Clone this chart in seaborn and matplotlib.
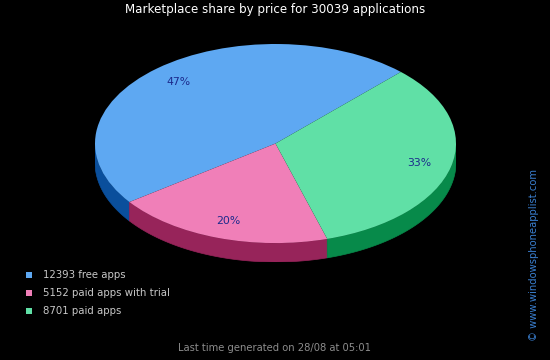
import numpy as np
import matplotlib
matplotlib.use("Agg")
import matplotlib.pyplot as plt
from matplotlib.patches import Polygon
import seaborn as sns

# Data
labels = ["12393 free apps", "5152 paid apps with trial", "8701 paid apps"]
counts = [12393, 5152, 8701]
top_colors = ["#5ea8f2", "#f07fb8", "#60e0a6"]
side_colors = ["#0a4f9c", "#97245a", "#078a4a"]

sns.set_theme(style="dark", rc={"figure.facecolor": "black", "axes.facecolor": "black",
                                "savefig.facecolor": "black"})
plt.rcParams['font.family'] = ['DejaVu Sans']

fig = plt.figure(figsize=(5.5, 3.6), dpi=100)
# axes spans the ellipse (plus depth of the 3d wall)
ax = fig.add_axes([95 / 550, 1 - 262 / 360, 361 / 550, 218 / 360])

start = 46
depth = 0.19

# side walls of the 3d pie (only the front half is visible)
total = sum(counts)
a1 = start
for val, col in zip(counts, side_colors):
    a2 = a1 + 360 * val / total
    lo, hi = max(a1, 180), min(a2, 360)
    if hi > lo:
        t = np.radians(np.linspace(lo, hi, 100))
        xs = np.cos(t)
        ys = np.sin(t)
        pts = np.column_stack([np.r_[xs, xs[::-1]], np.r_[ys, ys[::-1] - depth]])
        ax.add_patch(Polygon(pts, closed=True, facecolor=col, edgecolor=col, lw=0.5, zorder=1))
    a1 = a2

wedges, texts, autotexts = ax.pie(counts, colors=top_colors, startangle=start, counterclock=True,
                                  autopct='%1.0f%%', pctdistance=0.82,
                                  wedgeprops=dict(linewidth=0),
                                  textprops=dict(color="#1c2a8c", fontsize=7.8))
for w in wedges:
    w.set_zorder(2)
for t in autotexts:
    t.set_zorder(3)

ax.set_aspect('auto')
ax.set_xlim(-1, 1)
ax.set_ylim(-1 - depth, 1)
ax.axis('off')

fig.text(0.5, 1 - 10 / 360, "Marketplace share by price for 30039 applications",
         color="white", fontsize=8.6, ha='center', va='center')

# legend
for i, (lab, col) in enumerate(zip(labels, top_colors)):
    y = 1 - (275 + 18 * i) / 360
    fig.patches.append(plt.Rectangle((26 / 550, y - 3 / 360), 6 / 550, 6 / 360,
                                     transform=fig.transFigure, facecolor=col, edgecolor='none'))
    fig.text(43 / 550, y, lab, color="#c8c8c8", fontsize=7.3, ha='left', va='center')

fig.text(0.5, 1 - 348 / 360, "Last time generated on 28/08 at 05:01",
         color="#8c8c8c", fontsize=7.2, ha='center', va='center')

fig.text(534 / 550, 1 - 255 / 360, "© www.windowsphoneapplist.com",
         color="#3a7fd0", fontsize=7.2, rotation=90, ha='center', va='center')

fig.savefig("out.png", dpi=100, facecolor="black")
